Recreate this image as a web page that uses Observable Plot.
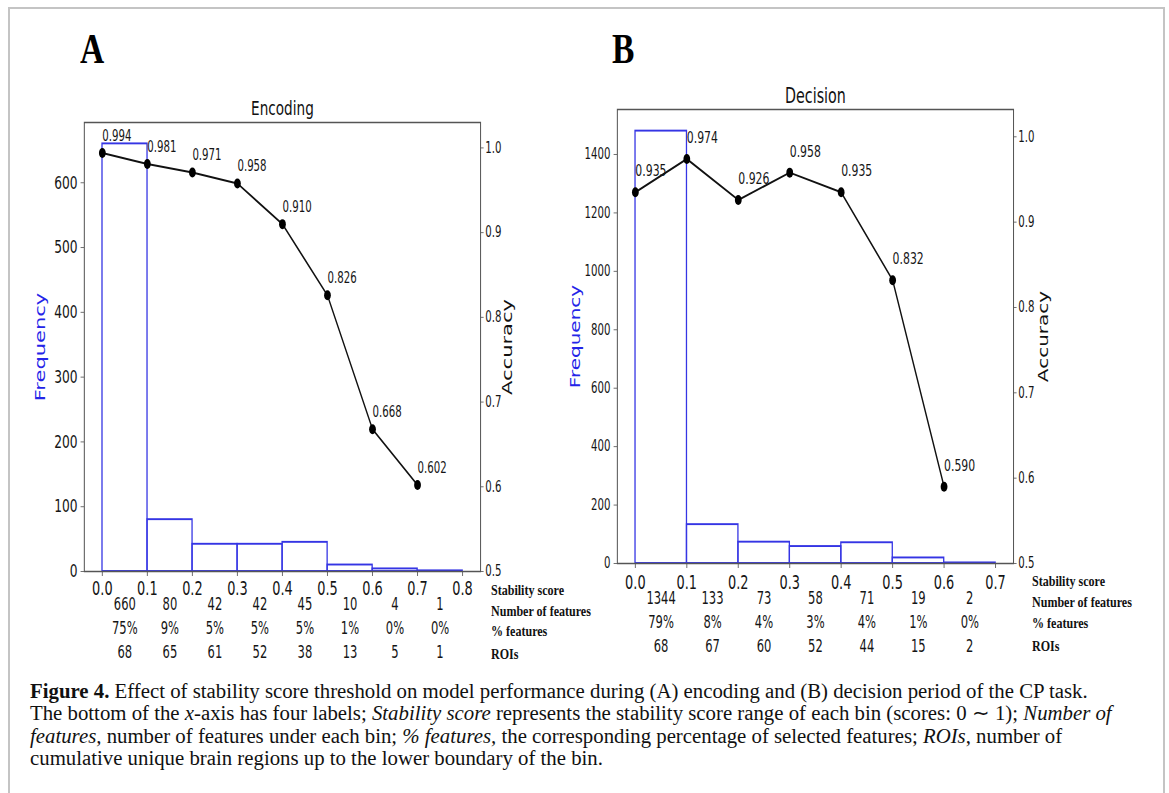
<!DOCTYPE html>
<html><head><meta charset="utf-8">
<script src="https://cdn.jsdelivr.net/npm/d3@7"></script>
<script src="https://cdn.jsdelivr.net/npm/@observablehq/plot@0.6"></script>
<style>
body{margin:0;background:#fff;width:1169px;height:793px;overflow:hidden;position:relative;font-family:"DejaVu Sans";}
#border{position:absolute;left:8px;top:7px;width:1153px;height:820px;border:2px solid #c4c4c4;}
.panel{position:absolute;transform:scaleX(0.68);transform-origin:0 0;}
.panel svg{overflow:visible;background:transparent;}
.letter{position:absolute;font-family:"Liberation Serif";font-weight:bold;font-size:43px;line-height:43px;transform:scaleX(0.78);transform-origin:0 0;color:#000;}
.rowlab{position:absolute;font-family:"Liberation Serif";font-weight:bold;font-size:14px;line-height:14px;white-space:nowrap;transform:scaleX(0.86);transform-origin:0 0;color:#111;}
#caption{position:absolute;left:30px;top:680px;font-family:"Liberation Serif";font-size:20.8px;line-height:22.3px;white-space:nowrap;color:#111;}
</style></head><body>
<div id="border"></div>
<div class="letter" style="left:80px;top:27px;">A</div>
<div class="letter" style="left:612px;top:27px;">B</div>
<div id="panelA" class="panel" style="left:20px;top:70px;width:765px;"></div>
<div id="panelB" class="panel" style="left:555px;top:60px;width:765px;"></div>
<div id="rowsA"></div>
<div id="rowsB"></div>
<div id="caption"><b>Figure 4.</b> Effect of stability score threshold on model performance during (A) encoding and (B) decision period of the CP task.<br>The bottom of the <i>x</i>-axis has four labels; <i>Stability score</i> represents the stability score range of each bin (scores: 0 ∼ 1); <i>Number of</i><br><i>features,</i> number of features under each bin; <i>% features,</i> the corresponding percentage of selected features; <i>ROIs</i>, number of<br>cumulative unique brain regions up to the lower boundary of the bin.</div>
<script>
// ---- Data ----
const rowLabels = ["Stability score", "Number of features", "% features", "ROIs"];
const accTicks = [0.5, 0.6, 0.7, 0.8, 0.9, 1.0];

// Panel A: Encoding
const edgesA = [0.0, 0.1, 0.2, 0.3, 0.4, 0.5, 0.6, 0.7, 0.8];
const freqA = [660, 80, 42, 42, 45, 10, 4, 1];
const accA = [0.994, 0.981, 0.971, 0.958, 0.910, 0.826, 0.668, 0.602];
const nFeatA = [660, 80, 42, 42, 45, 10, 4, 1];
const pctA = ["75%", "9%", "5%", "5%", "5%", "1%", "0%", "0%"];
const roiA = [68, 65, 61, 52, 38, 13, 5, 1];
const freqTicksA = [0, 100, 200, 300, 400, 500, 600];

// Panel B: Decision
const edgesB = [0.0, 0.1, 0.2, 0.3, 0.4, 0.5, 0.6, 0.7];
const freqB = [1480, 133, 73, 58, 71, 19, 2];
const accB = [0.935, 0.974, 0.926, 0.958, 0.935, 0.832, 0.590];
const nFeatB = [1344, 133, 73, 58, 71, 19, 2];
const pctB = ["79%", "8%", "4%", "3%", "4%", "1%", "0%"];
const roiB = [68, 67, 60, 52, 44, 15, 2];
const freqTicksB = [0, 200, 400, 600, 800, 1000, 1200, 1400];

function panel(o) {
  const k = o.fDom[1] / (o.accDom[1] - o.accDom[0]);
  const toF = a => (a - o.accDom[0]) * k;
  const toA = f => o.accDom[0] + f / k;
  const bins = o.freq.map((v, i) => ({x1: o.edges[i], x2: o.edges[i + 1], y: v}));
  const pts = o.acc.map((a, i) => ({x: o.edges[i], a, f: toF(a)}));
  const table = o.nFeat.map((n, i) => ({c: (o.edges[i] + o.edges[i + 1]) / 2, n, p: o.pct[i], r: o.roi[i]}));
  const axisColor = "#555";
  const ink = "#151515";
  return Plot.plot({
    width: o.W, height: o.H,
    marginLeft: o.mL, marginRight: o.mR, marginTop: o.mT, marginBottom: o.mB,
    x: {domain: o.xDom},
    y: {domain: o.fDom},
    style: {fontFamily: "DejaVu Sans", background: "transparent", overflow: "visible", color: ink},
    marks: [
      Plot.rectY(bins, {x1: "x1", x2: "x2", y: "y", fill: "none", stroke: "#3535e4", strokeWidth: 1.9}),
      Plot.frame({stroke: axisColor, strokeWidth: 1.5}),
      Plot.axisY({ticks: o.fTicks, tickFormat: d => String(d), tickSize: 5, tickPadding: 5, fontSize: o.fFont, label: null, stroke: axisColor, fill: ink}),
      Plot.axisY({anchor: "right", ticks: accTicks.map(toF), tickFormat: f => d3.format(".1f")(toA(f)), tickSize: 4, tickPadding: 3, fontSize: o.aFont, label: null, stroke: axisColor, fill: ink}),
      Plot.axisX({ticks: o.edges, tickFormat: d3.format(".1f"), tickSize: 5, tickPadding: o.xPad, fontSize: 19, label: null, stroke: axisColor, fill: ink}),
      Plot.line(pts, {x: "x", y: "f", stroke: "#111", strokeWidth: 2}),
      Plot.dot(pts, {x: "x", y: "f", r: 5, fill: "#000", stroke: "none"}),
      Plot.text(pts, {x: "x", y: "f", text: d => d3.format(".3f")(d.a), textAnchor: "start", lineAnchor: "middle", dy: o.labDy, fontSize: o.labFont, fill: ink}),
      Plot.text(table, {x: "c", y: () => 0, text: d => String(d.n), lineAnchor: "middle", dy: o.rowDy[0], fontSize: 17, fill: ink}),
      Plot.text(table, {x: "c", y: () => 0, text: "p", lineAnchor: "middle", dy: o.rowDy[1], fontSize: 17, fill: ink}),
      Plot.text(table, {x: "c", y: () => 0, text: d => String(d.r), lineAnchor: "middle", dy: o.rowDy[2], fontSize: 17, fill: ink}),
      Plot.text([o.title], {frameAnchor: "top", text: d => d, textAnchor: "middle", lineAnchor: "middle", dy: o.titleDy, fontSize: o.titleFont, fill: "#111"}),
      Plot.text(["Frequency"], {frameAnchor: "left", text: d => d, rotate: -90, textAnchor: "middle", lineAnchor: "middle", dx: o.fLabDx, fontSize: o.labelFont, fill: "#2424e8"}),
      Plot.text(["Accuracy"], {frameAnchor: "right", text: d => d, rotate: -90, textAnchor: "middle", lineAnchor: "middle", dx: o.aLabDx, fontSize: o.labelFont, fill: "#111"})
    ]
  });
}

document.getElementById("panelA").append(panel({
  W: 765, H: 600, mL: 94.1, mR: 88.2, mT: 52, mB: 99,
  xDom: [-0.04, 0.84], fDom: [0, 693], accDom: [0.5, 1.03],
  edges: edgesA, freq: freqA, acc: accA, nFeat: nFeatA, pct: pctA, roi: roiA,
  fTicks: freqTicksA, fFont: 18, aFont: 15, xPad: 5,
  labDy: -17, labFont: 15, rowDy: [33, 57, 81],
  title: "Encoding", titleDy: -14, titleFont: 20,
  fLabDx: -64.7, aLabDx: 40, labelFont: 21
}));

document.getElementById("panelB").append(panel({
  W: 765, H: 610, mL: 91.2, mR: 91.2, mT: 49, mB: 107,
  xDom: [-0.035, 0.735], fDom: [0, 1554], accDom: [0.5, 1.032],
  edges: edgesB, freq: freqB, acc: accB, nFeat: nFeatB, pct: pctB, roi: roiB,
  fTicks: freqTicksB, fFont: 15, aFont: 15, xPad: 7,
  labDy: -21, labFont: 16, rowDy: [35, 59, 83],
  title: "Decision", titleDy: -13, titleFont: 21,
  fLabDx: -61.8, aLabDx: 44.5, labelFont: 20
}));

function rows(id, left, tops) {
  const c = document.getElementById(id);
  rowLabels.forEach((t, i) => {
    const d = document.createElement("div");
    d.className = "rowlab";
    d.style.left = left + "px";
    d.style.top = tops[i] + "px";
    d.textContent = t;
    c.append(d);
  });
}
rows("rowsA", 491, [584, 605, 625, 648]);
rows("rowsB", 1032, [575, 596, 617, 640]);
</script>
</body></html>
